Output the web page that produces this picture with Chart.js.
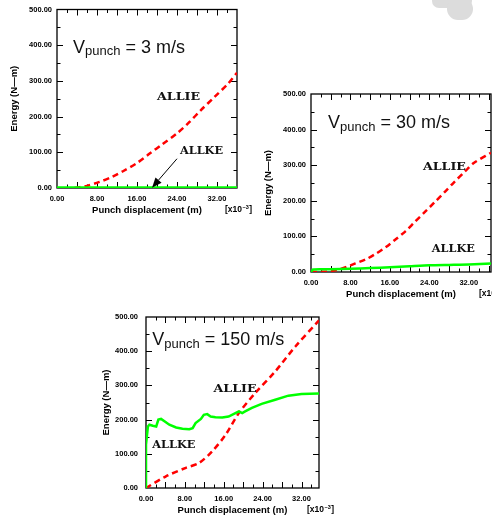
<!DOCTYPE html>
<html><head><meta charset="utf-8">
<script src="https://cdn.jsdelivr.net/npm/chart.js@4"></script>
<style>
html,body{margin:0;padding:0;background:#fff;width:492px;height:517px;overflow:hidden;position:relative}
canvas{position:absolute}
.blob{position:absolute;background:#dcdcdc}
</style></head><body>
<div class="blob" style="left:432px;top:-6px;width:40px;height:14px;border-radius:8px"></div>
<div class="blob" style="left:447px;top:-2px;width:26px;height:22px;border-radius:12px"></div>
<canvas id="c1" width="256" height="222" style="left:0;top:0"></canvas>
<canvas id="c2" width="260" height="225" style="left:250px;top:80px"></canvas>
<canvas id="c3" width="246" height="217" style="left:90px;top:300px"></canvas>
<script>
// ---------- data (displacement in 1e-3 m, energy in N-m) ----------
const xTitle = 'Punch displacement (m)';
const yTitle = 'Energy (N\u2014m)';
const seriesNames = ['ALLIE', 'ALLKE'];

// V = 3 m/s
const v3IeDisp  = [3.5, 6, 8.5, 11, 13.2, 16, 18.6, 21, 24, 26.5, 28.7, 31.5, 34.2, 36];
const v3Allie   = [0, 6, 17, 31, 47, 70, 97, 122, 153, 185, 217, 255, 292, 323];
const v3KeDisp  = [0, 6, 12, 18, 24, 30, 36];
const v3Allke   = [0, 0, 0, 0, 0, 0, 0];

// V = 30 m/s
const v30IeDisp = [0, 3, 5, 7.2, 9, 11.2, 13, 15.2, 17, 19.2, 21, 23.2, 25, 27.2, 29, 31.2, 33, 36.5];
const v30Allie  = [0, 1, 5, 14, 24, 36, 50, 70, 90, 115, 140, 170, 195, 226, 252, 282, 306, 335];
const v30KeDisp = [0, 0.4, 2, 4, 8, 12, 16, 20, 24, 28, 32, 36.5];
const v30Allke  = [0, 7, 8, 8, 9, 11, 13, 16, 19, 20, 21, 24];

// V = 150 m/s
const v150IeDisp = [0, 4.1, 8.2, 10.9, 13.6, 16.4, 19.1, 22.5, 26.6, 30.7, 35.6];
const v150Allie  = [0, 34, 59, 73, 107, 156, 219, 278, 341, 413, 490];
const v150KeDisp = [0, 0, 0.4, 0.7, 1.4, 2.1, 2.55, 3.1, 3.8, 4.8, 6.2, 7.5, 8.9, 9.6, 10.2, 11.3, 11.9, 12.6, 13.3, 14.3, 15.7, 17.0, 18.4, 19.1, 19.8, 20.4, 21.8, 23.8, 26.6, 29.3, 32.0, 35.6];
const v150Allke  = [0, 127, 180, 185, 182, 180, 200, 202, 195, 185, 177, 173, 172, 175, 190, 202, 214, 216, 209, 207, 206, 209, 219, 224, 219, 224, 234, 246, 258, 270, 275, 276];

const xTickStep = 8;
const yTickStep = 100;
const yMax = 500;

// ---------- helpers ----------
const zip = (xs, ys) => xs.map((v, i) => ({x: v, y: ys[i]}));

const framePlugin = {
  id: 'frame',
  beforeDatasetsDraw(chart) {
    const {ctx, chartArea: a, scales: {x, y}} = chart;
    ctx.save();
    ctx.strokeStyle = '#000';
    ctx.lineWidth = 1;
    ctx.beginPath();
    for (let v = 0; v <= x.max + 1e-9; v += 2) {
      const px = Math.round(x.getPixelForValue(v)) + 0.5;
      if (px <= a.left + 1 || px >= a.right - 1) continue;
      const L = (v % 4 === 0) ? 6 : 3.5;
      ctx.moveTo(px, a.bottom); ctx.lineTo(px, a.bottom - L);
      ctx.moveTo(px, a.top); ctx.lineTo(px, a.top + L);
    }
    for (let v = 0; v <= y.max + 1e-9; v += 50) {
      const py = Math.round(y.getPixelForValue(v)) + 0.5;
      if (py <= a.top + 1 || py >= a.bottom - 1) continue;
      const L = (v % 100 === 0) ? 6 : 3.5;
      ctx.moveTo(a.left, py); ctx.lineTo(a.left + L, py);
      ctx.moveTo(a.right, py); ctx.lineTo(a.right - L, py);
    }
    ctx.stroke();
    ctx.lineWidth = 1.3;
    ctx.strokeRect(a.left, a.top, a.right - a.left, a.bottom - a.top);
    ctx.restore();
  }
};

const notesPlugin = {
  id: 'notes',
  afterDatasetsDraw(chart, args, o) {
    const {ctx, chartArea: a, scales: {x, y}} = chart;
    ctx.save();
    ctx.fillStyle = '#111';
    ctx.textAlign = 'left';
    ctx.textBaseline = 'alphabetic';
    // V_punch title
    const vx = x.getPixelForValue(o.v.x), vy = y.getPixelForValue(o.v.y);
    ctx.font = '18px "Liberation Sans"';
    ctx.fillText('V', vx, vy);
    let w = ctx.measureText('V').width;
    ctx.font = '13px "Liberation Sans"';
    ctx.fillText('punch', vx + w, vy + 2.5);
    w += ctx.measureText('punch').width;
    ctx.font = '18px "Liberation Sans"';
    ctx.fillText(' = ' + o.v.text, vx + w, vy);
    // series labels
    ctx.textBaseline = 'middle';
    ctx.font = 'bold 11px "DejaVu Serif"';
    for (const n of o.labels) {
      const px = x.getPixelForValue(n.x), py = y.getPixelForValue(n.y);
      const mw = ctx.measureText(n.text).width;
      ctx.save();
      ctx.translate(px, py);
      ctx.scale(43 / mw, 1);
      ctx.fillText(n.text, 0, 0);
      ctx.restore();
    }
    // arrow
    if (o.arrow) {
      const x0 = x.getPixelForValue(o.arrow.x0), y0 = y.getPixelForValue(o.arrow.y0);
      const x1 = x.getPixelForValue(o.arrow.x1), y1 = y.getPixelForValue(o.arrow.y1);
      const ang = Math.atan2(y1 - y0, x1 - x0);
      const hl = 10, hw = 4;
      ctx.strokeStyle = '#000'; ctx.lineWidth = 1;
      ctx.beginPath(); ctx.moveTo(x0, y0);
      ctx.lineTo(x1 - Math.cos(ang) * hl, y1 - Math.sin(ang) * hl); ctx.stroke();
      ctx.fillStyle = '#000';
      ctx.beginPath();
      ctx.moveTo(x1, y1);
      ctx.lineTo(x1 - Math.cos(ang) * hl - Math.sin(ang) * hw, y1 - Math.sin(ang) * hl + Math.cos(ang) * hw);
      ctx.lineTo(x1 - Math.cos(ang) * hl + Math.sin(ang) * hw, y1 - Math.sin(ang) * hl - Math.cos(ang) * hw);
      ctx.closePath(); ctx.fill();
    }
    // unit label [x10^-3]
    ctx.fillStyle = '#000';
    ctx.textBaseline = 'middle';
    const ux = a.right - 12, uy = o.unitY;
    ctx.font = 'bold 8.5px "Liberation Sans"';
    ctx.fillText('[x10', ux, uy);
    let uw = ctx.measureText('[x10').width;
    ctx.font = 'bold 5.5px "Liberation Sans"';
    ctx.fillText('\u22123', ux + uw + 0.5, uy - 3);
    uw += ctx.measureText('\u22123').width + 1;
    ctx.font = 'bold 8.5px "Liberation Sans"';
    ctx.fillText(']', ux + uw, uy);
    ctx.restore();
  }
};

const tickFont = {family: 'Liberation Sans', size: 7.5, weight: 'bold'};
const titleFont = {family: 'Liberation Sans', size: 9.5, weight: 'bold'};

function makeChart(id, g, ie, ke, notes) {
  return new Chart(document.getElementById(id), {
    type: 'line',
    data: {
      datasets: [
        {label: seriesNames[1], data: ke, borderColor: '#00ff00', borderWidth: g.keWidth, pointRadius: 0, tension: g.keTension, fill: false},
        {label: seriesNames[0], data: ie, borderColor: '#ff0000', borderWidth: 2.5, borderDash: [6, 4], pointRadius: 0, tension: 0.3, fill: false}
      ]
    },
    options: {
      responsive: false, animation: false, devicePixelRatio: 1,
      layout: {padding: {left: 0, top: g.top, right: g.right, bottom: 0}},
      plugins: {legend: {display: false}, tooltip: {enabled: false}, notes: notes},
      scales: {
        x: {
          type: 'linear', min: 0, max: g.xmax,
          grid: {display: false, drawTicks: false}, border: {display: false},
          ticks: {stepSize: xTickStep, includeBounds: false, padding: g.xPad, font: tickFont, color: '#000',
                  maxRotation: 0, autoSkip: false, callback: v => v.toFixed(2)},
          title: {display: true, text: xTitle, font: titleFont, color: '#000', padding: {top: 0, bottom: g.xtPad}},
          afterFit: s => { s.height = g.xh; }
        },
        y: {
          min: 0, max: yMax,
          grid: {display: false, drawTicks: false}, border: {display: false},
          ticks: {stepSize: yTickStep, padding: g.yPad, font: tickFont, color: '#000', callback: v => v.toFixed(2)},
          title: {display: true, text: yTitle, font: titleFont, color: '#000', padding: {top: g.ytPad, bottom: 0}},
          afterFit: s => { s.width = g.yw; }
        }
      }
    },
    plugins: [framePlugin, notesPlugin]
  });
}

makeChart('c1',
  {top: 6, right: 19, xh: 34, yw: 57, xmax: 36, xPad: 6.5, yPad: 5, xtPad: 6.3, ytPad: 8.3, keWidth: 3.5, keTension: 0},
  zip(v3IeDisp, v3Allie), zip(v3KeDisp, v3Allke),
  {v: {x: 3.2, y: 379, text: '3 m/s'},
   labels: [{text: 'ALLIE', x: 20, y: 255}, {text: 'ALLKE', x: 24.6, y: 104}],
   arrow: {x0: 24, y0: 82, x1: 19, y1: 1},
   unitY: 210});

makeChart('c2',
  {top: 14, right: 19, xh: 33, yw: 61, xmax: 36.5, xPad: 6.5, yPad: 5, xtPad: 5.3, ytPad: 12.3, keWidth: 2.5, keTension: 0.2},
  zip(v30IeDisp, v30Allie), zip(v30KeDisp, v30Allke),
  {v: {x: 3.45, y: 404, text: '30 m/s'},
   labels: [{text: 'ALLIE', x: 22.7, y: 295}, {text: 'ALLKE', x: 24.5, y: 65}],
   unitY: 214});

makeChart('c3',
  {top: 17, right: 17, xh: 29, yw: 56, xmax: 35.6, xPad: 6.5, yPad: 8, xtPad: 1.3, ytPad: 11, keWidth: 2.5, keTension: 0},
  zip(v150IeDisp, v150Allie), zip(v150KeDisp, v150Allke),
  {v: {x: 1.3, y: 418, text: '150 m/s'},
   labels: [{text: 'ALLIE', x: 13.9, y: 290}, {text: 'ALLKE', x: 1.3, y: 124}],
   unitY: 210});
</script>
</body></html>
